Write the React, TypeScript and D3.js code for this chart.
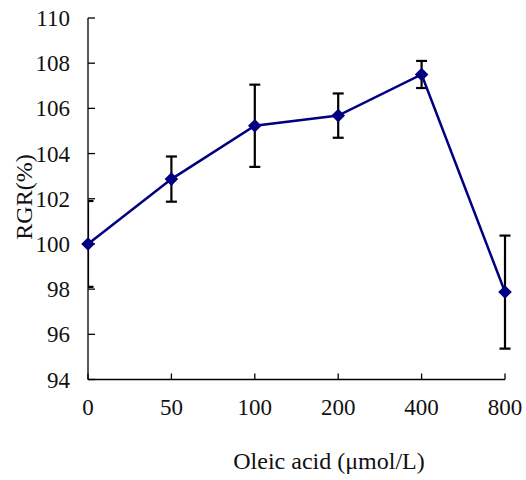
import React from "react";
import * as d3 from "d3";

const categories = ["0", "50", "100", "200", "400", "800"];
const values = [100.0, 102.87, 105.23, 105.68, 107.5, 97.87];
const errors = [1.9, 1.0, 1.82, 0.98, 0.6, 2.5];
const yTicks = [94, 96, 98, 100, 102, 104, 106, 108, 110];

const W = 526;
const H = 480;
const left = 88;
const right = 505;
const top = 18;
const bottom = 379.5;
const FONT = "Liberation Serif, DejaVu Serif, serif";

export default function App() {
  const x = d3.scalePoint<string>().domain(categories).range([left, right]).padding(0);
  const y = d3.scaleLinear().domain([94, 110]).range([bottom, top]);
  const line = d3
    .line<number>()
    .x((_, i) => x(categories[i]) as number)
    .y((d) => y(d));
  const r = 6.8;
  const diamond = `M0,${-r}L${r},0L0,${r}L${-r},0Z`;
  const tickStyle = { fontFamily: FONT, fontSize: "23px" };
  const titleStyle = { fontFamily: FONT, fontSize: "24px" };

  return (
    <svg width={W} height={H} style={{ position: "absolute", left: 0, top: 0, background: "#fff" }}>
      <defs>
        <clipPath id="plotClip">
          <rect x={left} y={top - 20} width={right - left + 20} height={bottom - top + 40} />
        </clipPath>
      </defs>
      <line x1={left} x2={left} y1={top} y2={bottom} stroke="#000" strokeWidth={1.3} />
      <line x1={left} x2={right} y1={bottom} y2={bottom} stroke="#000" strokeWidth={1.3} />
      {yTicks.map((t) => (
        <g key={t}>
          <line x1={left} x2={left + 7} y1={y(t)} y2={y(t)} stroke="#000" strokeWidth={1.3} />
          <text x={70} y={y(t)} dy="0.35em" textAnchor="end" style={tickStyle} fill="#111">
            {t}
          </text>
        </g>
      ))}
      {categories.map((c) => (
        <g key={c}>
          <line x1={x(c)} x2={x(c)} y1={bottom} y2={bottom - 6} stroke="#000" strokeWidth={1.3} />
          <text x={x(c)} y={415} textAnchor="middle" style={tickStyle} fill="#111">
            {c}
          </text>
        </g>
      ))}
      <text x={329} y={469} textAnchor="middle" style={titleStyle} fill="#111">
        Oleic acid (μmol/L)
      </text>
      <text transform={`translate(32,197) rotate(-90)`} textAnchor="middle" style={titleStyle} fill="#111">
        RGR(%)
      </text>
      <g clipPath="url(#plotClip)">
        {values.map((v, i) => {
          const cx = x(categories[i]) as number;
          const y1 = y(v + errors[i]);
          const y2 = y(v - errors[i]);
          return (
            <g key={i} stroke="#000" strokeWidth={2.2}>
              <line x1={cx} x2={cx} y1={y1} y2={y2} />
              <line x1={cx - 5.5} x2={cx + 5.5} y1={y1} y2={y1} />
              <line x1={cx - 5.5} x2={cx + 5.5} y1={y2} y2={y2} />
            </g>
          );
        })}
      </g>
      <path d={line(values) || ""} fill="none" stroke="#000080" strokeWidth={2.5} />
      {values.map((v, i) => (
        <path key={i} d={diamond} transform={`translate(${x(categories[i])},${y(v)})`} fill="#000080" />
      ))}
    </svg>
  );
}
